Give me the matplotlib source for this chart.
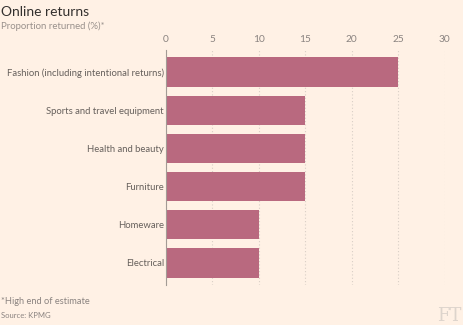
import matplotlib.pyplot as plt

categories = ["Fashion (including intentional returns)", "Sports and travel equipment",
              "Health and beauty", "Furniture", "Homeware", "Electrical"]
values = [25, 15, 15, 15, 10, 10]
xticks = [0, 5, 10, 15, 20, 25, 30]

bg = "#fff1e5"
bar_color = "#b9697f"
text_grey = "#66605c"
plt.rcParams['font.family'] = ['Lato', 'DejaVu Sans']

fig = plt.figure(figsize=[4.64, 3.25], dpi=100, facecolor=bg)
ax = fig.add_axes([166 / 464, 1 - 285 / 325, (444.7 - 166) / 464, 235 / 325])
ax.set_facecolor(bg)

ax.barh(range(len(categories)), values, height=0.77, color=bar_color, zorder=2)
ax.set_xlim(0, 30)
ax.set_ylim(5.58, -0.58)

ax.set_yticks(range(len(categories)))
ax.set_yticklabels(categories, fontsize=6.85, color=text_grey)
ax.set_xticks(xticks)
ax.set_xticklabels([str(t) for t in xticks], fontsize=7.3, color="#8a8380")
ax.xaxis.tick_top()
ax.tick_params(axis="both", length=0)
ax.tick_params(axis="x", pad=4)
ax.tick_params(axis="y", pad=1.5)

ax.grid(axis="x", linestyle=(0, (1, 2)), color="#d9cfc6", linewidth=0.8, zorder=0)
for s in ["top", "right", "bottom"]:
    ax.spines[s].set_visible(False)
ax.spines["left"].set_color("#a39b95")
ax.spines["left"].set_linewidth(0.8)
ax.spines["left"].set_zorder(3)

fig.text(0.002, 1 - 12 / 325, "Online returns", fontsize=10, color="#33302e", va="center")
fig.text(0.002, 1 - 26 / 325, "Proportion returned (%)*", fontsize=6.9, color="#99918c", va="center")
fig.text(0.002, 1 - 301 / 325, "*High end of estimate", fontsize=6.7, color="#8a8380", va="center")
fig.text(0.002, 1 - 316 / 325, "Source: KPMG", fontsize=5.5, color="#8a8380", va="center")
fig.text(0.995, 1 - 316 / 325, "FT", fontsize=13, color="#ddd4cc", family="DejaVu Serif",
         ha="right", va="center")

fig.savefig("out.png", dpi=100, facecolor=bg)
